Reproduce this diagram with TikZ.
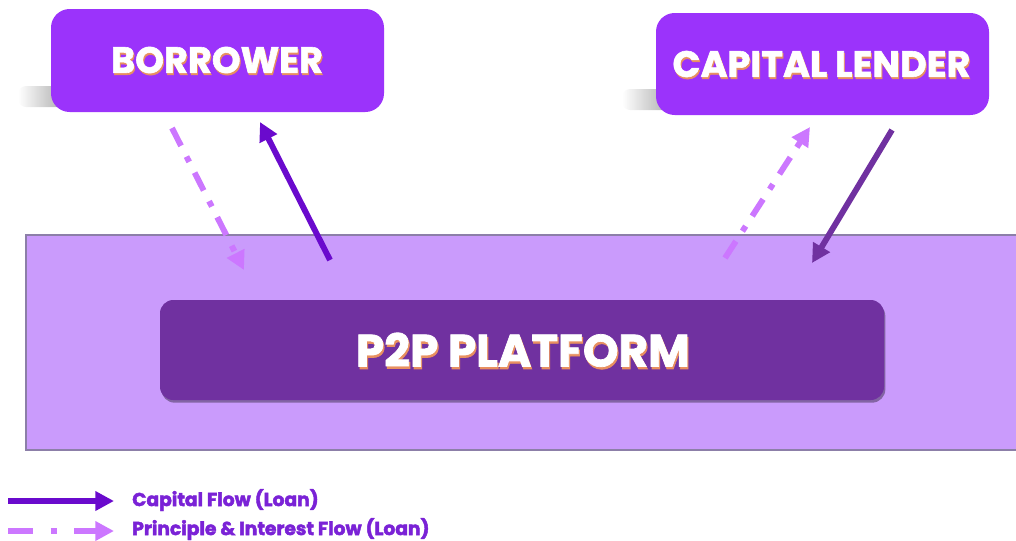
\documentclass[tikz,border=0pt]{standalone}
\usepackage{fontspec}
\setmainfont{Poppins}
\newfontfamily\heavy{Poppins}[FakeBold=1.6]
\newfontfamily\legheavy{Poppins}[FakeBold=2.4]
\usetikzlibrary{shadows,arrows.meta}
\definecolor{bgband}{HTML}{CA9BFC}
\definecolor{bandline}{HTML}{8C7FA8}
\definecolor{topbox}{HTML}{9B33FB}
\definecolor{platbox}{HTML}{7031A0}
\definecolor{capflow}{HTML}{6A0ACD}
\definecolor{capflowb}{HTML}{7031A0}
\definecolor{piflow}{HTML}{CC77FF}
\definecolor{txtshadow}{HTML}{E89060}
\definecolor{legtext}{HTML}{7A22D6}
\tikzset{
  actorbox/.style={rounded corners=14pt, fill=topbox, draw=none, inner sep=0pt},
  softshade/.style={rounded corners=6pt, left color=white, right color=black!45, draw=none, opacity=0.8},
  platform/.style={rounded corners=10pt, fill=platbox, draw=none, inner sep=0pt,
    drop shadow={shadow xshift=1pt, shadow yshift=-2pt, opacity=0.35, fill=black}},
  capline/.style={line width=4.4pt, -{Triangle[length=14pt,width=14pt]}},
  piline/.style={line width=4.4pt, piflow, dash pattern=on 15pt off 9pt on 4.5pt off 9pt,
    -{Triangle[length=14pt,width=14pt]}},
  lbltxt/.style={font=\fontsize{14}{16}\selectfont\legheavy\bfseries, text=legtext, anchor=west, inner sep=0pt},
  boxtxt/.style={inner sep=0pt},
}
\newcommand{\shadowtext}[2]{%
  \makebox[0pt]{\color{txtshadow}#2}\makebox[0pt]{\hspace*{-#1}\raisebox{#1}{\color{white}#2}}}
\begin{document}
\begin{tikzpicture}[x=0.75pt,y=-0.75pt]
\useasboundingbox (0,0) rectangle (1016,540);
\begin{scope}
\clip (0,0) rectangle (1016,540);
\draw[fill=bgband, draw=bandline, line width=0.8pt] (26,235) rectangle (1030,450);
\end{scope}
% platform
\path[platform] (160,300) rectangle (884,400);
\node[boxtxt, font=\fontsize{34}{40}\selectfont\heavy\bfseries] (plat) at (524,351) {\shadowtext{1.8pt}{P2P PLATFORM}};

% borrower
\path[softshade] (18,86) rectangle (70,107);
\path[actorbox] (51,9) rectangle (384,112);
\node[boxtxt, font=\fontsize{27.5}{30}\selectfont\heavy\bfseries] (borrow) at (218,61) {\shadowtext{1.5pt}{BORROWER}};

% lender
\path[softshade] (622,89) rectangle (676,110);
\path[actorbox] (656,13) rectangle (989,115);
\node[boxtxt, font=\fontsize{27.5}{30}\selectfont\heavy\bfseries] (lender) at (822.5,65) {\shadowtext{1.5pt}{CAPITAL LENDER}};

% flow arrows
\coordinate (b1s) at (172,128); \coordinate (b1e) at (244,270);
\coordinate (b2s) at (330,260); \coordinate (b2e) at (260,122);
\coordinate (l1s) at (725,258); \coordinate (l1e) at (810,127);
\coordinate (l2s) at (892,130); \coordinate (l2e) at (812,263);
\draw[piline] (b1s) -- (b1e);
\draw[capline, capflow] (b2s) -- (b2e);
\draw[piline] (l1s) -- (l1e);
\draw[capline, capflowb] (l2s) -- (l2e);

% legend
\coordinate (la) at (8,501); \coordinate (lb) at (114,501);
\coordinate (lc) at (8,531); \coordinate (ld) at (114,531);
\draw[capline, capflow] (la) -- (lb);
\draw[piline, dash pattern=on 19pt off 13pt on 4.5pt off 13pt] (lc) -- (ld);
\node[lbltxt] (leg1) at (132,500) {Capital Flow (Loan)};
\node[lbltxt] (leg2) at (132,529) {Principle \& Interest Flow (Loan)};
\end{tikzpicture}
\end{document}
